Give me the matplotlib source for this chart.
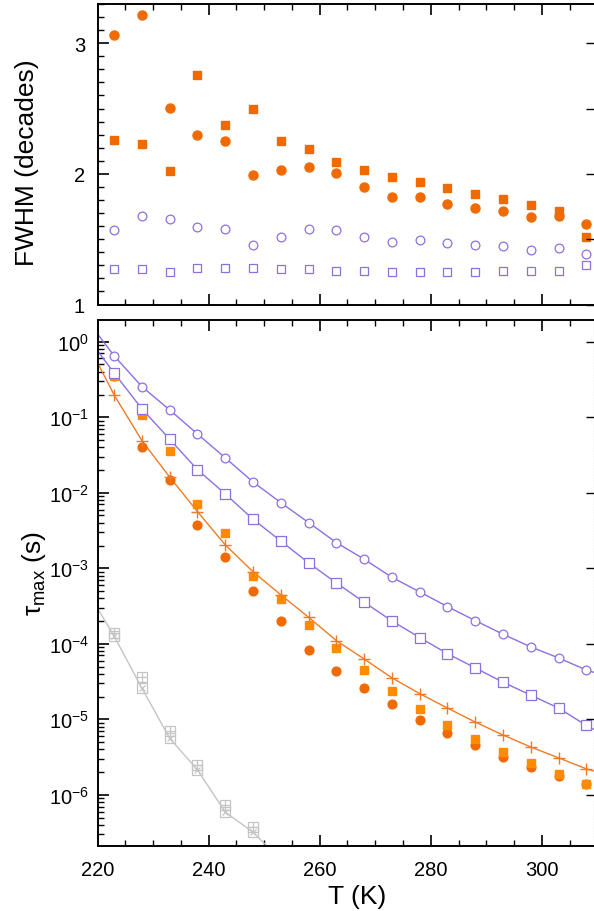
import numpy as np
import matplotlib
matplotlib.use('Agg')
import matplotlib.pyplot as plt
from matplotlib.ticker import MultipleLocator, LogLocator, NullFormatter

plt.rcParams['font.family'] = ['Liberation Sans', 'DejaVu Sans']
plt.rcParams['mathtext.fontset'] = 'custom'
plt.rcParams['mathtext.rm'] = 'Liberation Sans'
plt.rcParams['mathtext.it'] = 'Liberation Sans'
plt.rcParams['mathtext.bf'] = 'Liberation Sans:bold'

# === Temperatures ===
T = [223, 228, 233, 238, 243, 248, 253, 258, 263, 268, 273, 278, 283, 288, 293, 298, 303, 308]

# === FWHM (decades) ===
fwhm_circ_fill = [3.066, 3.216, 2.503, 2.30, 2.253, 1.992, 2.033, 2.056, 2.005, 1.898, 1.822, 1.822,
                  1.773, 1.742, 1.717, 1.671, 1.681, 1.617]
fwhm_sq_fill = [2.258, 2.227, 2.021, 2.760, 2.377, 2.497, 2.250, 2.194, 2.089, 2.028, 1.979, 1.939,
                1.893, 1.849, 1.806, 1.763, 1.717, 1.513]
fwhm_circ_open = [1.574, 1.679, 1.653, 1.594, 1.581, 1.457, 1.518, 1.581, 1.574, 1.513, 1.477, 1.495,
                  1.470, 1.459, 1.449, 1.419, 1.436, 1.386]
fwhm_sq_open = [1.275, 1.275, 1.252, 1.283, 1.281, 1.281, 1.271, 1.268, 1.260, 1.255, 1.250, 1.250,
                1.252, 1.252, 1.255, 1.258, 1.260, 1.306]

# === tau_max (s) ===
tau_circ_open = [0.65, 0.254, 0.125, 0.060, 0.029, 0.0139, 0.0074, 0.00403, 0.00219, 1.32e-3, 7.6e-4,
                 4.87e-4, 3.11e-4, 2.03e-4, 1.34e-4, 9.1e-5, 6.5e-5, 4.5e-5]
tau_sq_open = [0.385, 0.129, 0.0512, 0.0202, 0.00966, 0.00446, 0.0023, 0.00118, 6.4e-4, 3.56e-4, 2.01e-4,
               1.21e-4, 7.4e-5, 4.8e-5, 3.1e-5, 2.09e-5, 1.41e-5, 8.3e-6]
tau_plus = [0.197, 0.049, 0.0161, 0.00563, 0.00204, 9.0e-4, 4.45e-4, 2.25e-4, 1.10e-4, 6.3e-5, 3.54e-5,
            2.19e-5, 1.41e-5, 9.2e-6, 6.2e-6, 4.3e-6, 3.09e-6, 2.21e-6]
tau_sq_fill = [0.356, 0.107, 0.036, 0.0070, 0.0029, 7.9e-4, 3.94e-4, 1.80e-4, 8.7e-5, 4.5e-5, 2.36e-5,
               1.39e-5, 8.5e-6, 5.5e-6, 3.7e-6, 2.6e-6, 1.91e-6, 1.41e-6]
tau_circ_fill = [0.352, 0.0408, 0.0149, 0.00379, 1.43e-3, 5.0e-4, 2.01e-4, 8.4e-5, 4.3e-5, 2.63e-5, 1.58e-5,
                 9.9e-6, 6.6e-6, 4.5e-6, 3.2e-6, 2.37e-6, 1.77e-6, 1.39e-6]

# gray (low-T process)
T_gray = [223, 228, 233, 238, 243, 248]
tau_gray_plus = [1.38e-4, 3.6e-5, 6.9e-6, 2.52e-6, 7.4e-7, 3.8e-7]
tau_gray_x = [1.26e-4, 2.58e-5, 5.6e-6, 2.14e-6, 5.9e-7, 3.2e-7]

# fit lines
T_fit = [220] + T + [309.3]
fit_circ = [1.27] + tau_circ_open + [4.2e-5]
fit_sq = [0.76] + tau_sq_open + [7.4e-6]
fit_plus = [0.53] + tau_plus + [2.07e-6]
T_fit_gray = [220] + T_gray + [250.5]
fit_gray = [2.96e-4] + tau_gray_x + [2.1e-7]

purple = '#8d6fe4'
orange = '#f06a00'
orange_sq = '#ff8c00'
orange_line = '#f37a25'
gray = '#c4c4c4'

fig = plt.figure(figsize=(5.94, 9.12), dpi=100)
W, H = 594.0, 912.0
x0, x1 = 97.5, 593.5
ax1 = fig.add_axes([x0 / W, 1 - 305.5 / H, (x1 - x0) / W, 300.5 / H])
ax2 = fig.add_axes([x0 / W, 1 - 847 / H, (x1 - x0) / W, 526 / H])

# === Top panel: FWHM ===
ax1.plot(T, fwhm_circ_fill, 'o', color=orange, ms=6.5, mec=orange)
ax1.plot(T, fwhm_sq_fill, 's', color=orange, ms=6.2, mec=orange)
ax1.plot(T, fwhm_circ_open, 'o', mfc='none', mec=purple, ms=6.3, mew=0.9)
ax1.plot(T, fwhm_sq_open, 's', mfc='none', mec=purple, ms=6.3, mew=0.9)
ax1.set_xlim(220, 309.3)
ax1.set_ylim(1, 3.3)
ax1.xaxis.set_major_locator(MultipleLocator(20))
ax1.xaxis.set_minor_locator(MultipleLocator(5))
ax1.yaxis.set_major_locator(MultipleLocator(1))
ax1.yaxis.set_minor_locator(MultipleLocator(0.1))
ax1.tick_params(axis='x', which='both', direction='in', top=True, bottom=True, labelbottom=False)
ax1.tick_params(axis='y', which='both', direction='in', left=True, right=False, labelsize=14.5, pad=9)
ax1.tick_params(which='major', length=8, width=1.2)
ax1.tick_params(which='minor', length=4.5, width=1.0)
ax1r = ax1.twinx()
ax1r.set_ylim(1, 3.3)
ax1r.yaxis.set_major_locator(MultipleLocator(0.5))
ax1r.tick_params(axis='y', direction='in', length=6, width=1.0, labelright=False)
for a in (ax1, ax1r):
    a.spines['right'].set_visible(False)
    for s in ('left', 'top', 'bottom'):
        a.spines[s].set_linewidth(1.2)
ax1.set_ylabel('FWHM (decades)', fontsize=19)
ax1.yaxis.set_label_coords(-0.118, 0.474)

# === Bottom panel: tau_max ===
ax2.set_yscale('log')
ax2.plot(T_fit, fit_circ, '-', color=purple, lw=1.0)
ax2.plot(T_fit, fit_sq, '-', color=purple, lw=1.0)
ax2.plot(T_fit, fit_plus, '-', color=orange_line, lw=1.0)
ax2.plot(T_fit_gray, fit_gray, '-', color=gray, lw=1.0)
ax2.plot(T, tau_circ_fill, 'o', color=orange, ms=6.3, mec=orange)
ax2.plot(T, tau_sq_fill, 's', color=orange_sq, ms=6.3, mec=orange_sq)
ax2.plot(T, tau_plus, '+', color=orange_line, ms=8, mew=1.0)
ax2.plot(T, tau_circ_open, 'o', mfc='white', mec=purple, ms=6.3, mew=0.9)
ax2.plot(T, tau_sq_open, 's', mfc='white', mec=purple, ms=6.5, mew=0.9)
ax2.plot(T_gray, tau_gray_plus, 's', mfc='none', mec=gray, ms=6.5, mew=0.9)
ax2.plot(T_gray, tau_gray_plus, '+', color=gray, ms=6.5, mew=0.9)
ax2.plot(T_gray, tau_gray_x, 's', mfc='none', mec=gray, ms=6.5, mew=0.9)
ax2.plot(T_gray, tau_gray_x, 'x', color=gray, ms=5, mew=0.9)
ax2.set_xlim(220, 309.3)
ax2.set_ylim(2.1e-7, 1.94)
ax2.xaxis.set_major_locator(MultipleLocator(20))
ax2.xaxis.set_minor_locator(MultipleLocator(5))
ax2.yaxis.set_major_locator(LogLocator(base=10, numticks=20))
ax2.yaxis.set_minor_locator(LogLocator(base=10, subs=np.arange(2, 10), numticks=20))
ax2.yaxis.set_minor_formatter(NullFormatter())
ax2.tick_params(axis='x', which='both', direction='in', top=True, bottom=True, labelsize=14.5, pad=10)
ax2.tick_params(axis='y', which='both', direction='in', left=True, right=False, labelsize=14.5, pad=6)
ax2.tick_params(which='major', length=8, width=1.2)
ax2.tick_params(which='minor', length=4.5, width=1.0)
ax2r = ax2.twinx()
ax2r.set_yscale('log')
ax2r.set_ylim(2.1e-7, 1.94)
ax2r.yaxis.set_major_locator(LogLocator(base=10, numticks=20))
ax2r.yaxis.set_minor_locator(LogLocator(base=10, subs=[], numticks=20))
ax2r.tick_params(axis='y', which='both', direction='in', length=6, width=1.0, labelright=False)
for a in (ax2, ax2r):
    a.spines['right'].set_linestyle(':')
    a.spines['right'].set_color('#bbbbbb')
    a.spines['right'].set_linewidth(0.8)
    for s in ('left', 'top', 'bottom'):
        a.spines[s].set_linewidth(1.2)
ax2.set_ylabel(r'$\tau_{\rm max}$ (s)', fontsize=19)
ax2.yaxis.set_label_coords(-0.10, 0.52)
ax2.set_xlabel('T (K)', fontsize=19)
ax2.xaxis.set_label_coords(0.523, -0.072)

plt.savefig('out.png', dpi=100)
